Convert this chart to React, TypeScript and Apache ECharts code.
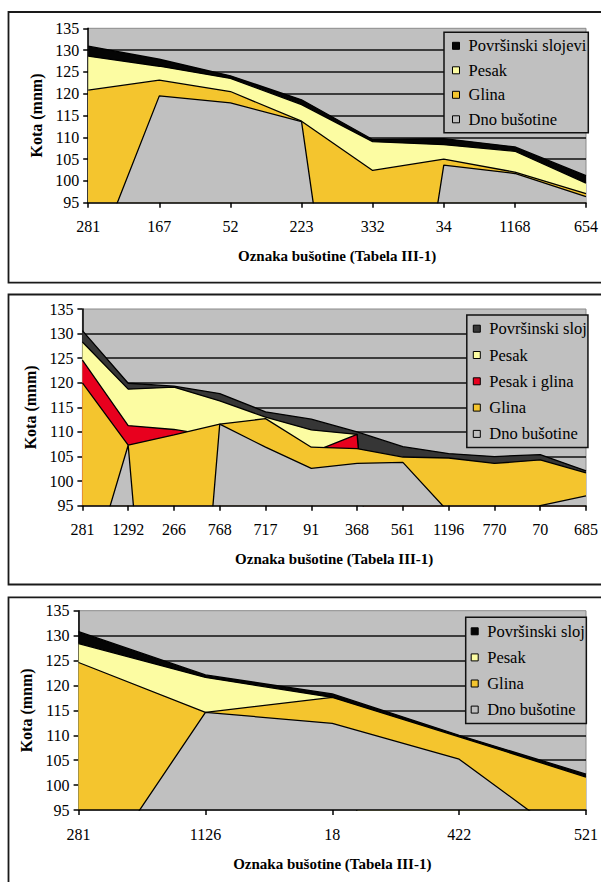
import React, { useEffect, useRef } from 'react';
import * as echarts from 'echarts';

// ---------- Panel 1 ----------
const categories1 = ['281', '167', '52', '223', '332', '34', '1168', '654'];
const povrsinski1 = [130.9, 127.9, 124.1, 118.6, 109.5, 109.7, 107.8, 101.2];
const pesak1 = [128.6, 126.3, 123.5, 117.5, 109.0, 108.3, 106.8, 99.5];
const glina1 = [120.8, 123.1, 120.5, 113.7, 102.4, 105.0, 102.0, 97.1];
const dno1 = [78, 119.5, 117.9, 113.6, 0, 103.6, 101.7, 96.4];

// ---------- Panel 2 ----------
const categories2 = ['281', '1292', '266', '768', '717', '91', '368', '561', '1196', '770', '70', '685'];
const povrsinski2 = [130.6, 119.9, 119.3, 117.8, 114.1, 112.6, 110.0, 107.0, 105.6, 105.0, 105.4, 102.1];
const pesak2 = [128.3, 118.7, 119.1, 116.3, 113.0, 110.4, 109.5, 0, 0, 0, 0, 0];
const pesakGlina2 = [124.6, 111.3, 110.5, 109.0, 108.0, 105.8, 109.5, 0, 0, 0, 0, 0];
const glina2 = [120.0, 107.3, 109.4, 111.6, 112.7, 106.9, 106.6, 104.9, 104.7, 103.6, 104.3, 101.7];
const dno2 = [76, 107.3, 0, 111.6, 106.9, 102.6, 103.6, 103.8, 93.7, 90, 95, 97.0];

// ---------- Panel 3 ----------
const categories3 = ['281', '1126', '18', '422', '521'];
const povrsinski3 = [130.8, 122.1, 118.3, 110.0, 102.2];
const pesak3 = [128.4, 121.6, 117.6, 0, 0];
const glina3 = [124.6, 114.6, 117.6, 109.7, 101.6];
const dno3 = [76.8, 114.6, 112.4, 105.2, 86.5];

const yTicks = { min: 95, max: 135, interval: 5 };
const xTitle = 'Oznaka bušotine (Tabela III-1)';
const yTitle = 'Kota (mnm)';

const FONT = "'Liberation Serif', 'Times New Roman', serif";
const C_GRAY = '#c0c0c0';
const C_GLINA = '#f4c52e';
const C_PESAK = '#fcfca2';
const C_RED = '#e8001e';
const C_BLACK = '#050505';
const C_DARK = '#363636';

type Layer = { name: string; data: number[]; color: string };

const panels = [
  {
    categories: categories1,
    layers: [
      { name: 'Površinski slojevi', data: povrsinski1, color: C_BLACK },
      { name: 'Pesak', data: pesak1, color: C_PESAK },
      { name: 'Glina', data: glina1, color: C_GLINA },
      { name: 'Dno bušotine', data: dno1, color: C_GRAY },
    ] as Layer[],
    grid: { left: 88.2, top: 28.3, width: 499.4, height: 174.4 },
    frame: { y: 12, h: 270.7 },
    legend: { left: 444, top: 32.3, itemGap: 7.5, padding: [5, 2, 5, 8] },
  },
  {
    categories: categories2,
    layers: [
      { name: 'Površinski sloj', data: povrsinski2, color: C_DARK },
      { name: 'Pesak', data: pesak2, color: C_PESAK },
      { name: 'Pesak i glina', data: pesakGlina2, color: C_RED },
      { name: 'Glina', data: glina2, color: C_GLINA },
      { name: 'Dno bušotine', data: dno2, color: C_GRAY },
    ] as Layer[],
    grid: { left: 82.4, top: 309, width: 504, height: 196.7 },
    frame: { y: 294.5, h: 290 },
    legend: { left: 466.8, top: 315, itemGap: 9.3, padding: [5.2, 1, 5.2, 6] },
  },
  {
    categories: categories3,
    layers: [
      { name: 'Površinski sloj', data: povrsinski3, color: C_BLACK },
      { name: 'Pesak', data: pesak3, color: C_PESAK },
      { name: 'Glina', data: glina3, color: C_GLINA },
      { name: 'Dno bušotine', data: dno3, color: C_GRAY },
    ] as Layer[],
    grid: { left: 78.6, top: 610.7, width: 507.8, height: 199.3 },
    frame: { y: 597.3, h: 320 },
    legend: { left: 465.7, top: 617.3, itemGap: 9.1, padding: [5.5, 1.5, 5.5, 5] },
  },
];

function buildOption() {
  const grid: any[] = [];
  const xAxis: any[] = [];
  const yAxis: any[] = [];
  const series: any[] = [];
  const legend: any[] = [];
  const graphic: any[] = [];

  panels.forEach((p, pi) => {
    grid.push({
      ...p.grid,
      show: true,
      backgroundColor: C_GRAY,
      borderColor: '#8a8a8a',
      borderWidth: 1,
      containLabel: false,
    });
    xAxis.push({
      type: 'category',
      gridIndex: pi,
      z: 40,
      data: p.categories,
      boundaryGap: false,
      axisLine: { show: true, lineStyle: { color: '#000', width: 1.5 } },
      axisTick: { show: true, length: 5, lineStyle: { color: '#000', width: 1.5 } },
      axisLabel: { fontFamily: FONT, fontSize: 16, color: '#000', margin: 16, interval: 0 },
      splitLine: { show: false },
      name: xTitle,
      nameLocation: 'middle',
      nameGap: 46,
      nameTextStyle: { fontFamily: FONT, fontSize: 15, fontWeight: 'bold', color: '#000' },
    });
    yAxis.push({
      type: 'value',
      gridIndex: pi,
      ...yTicks,
      axisLine: { show: true, lineStyle: { color: '#000', width: 1.5 } },
      axisTick: { show: true, length: 5, lineStyle: { color: '#000', width: 1.5 } },
      axisLabel: { fontFamily: FONT, fontSize: 16, color: '#000', margin: 9 },
      splitLine: {
        show: true,
        showMinLine: false,
        showMaxLine: false,
        lineStyle: { color: '#111', width: 1.5 },
      },
      name: yTitle,
      nameLocation: 'middle',
      nameGap: 44,
      nameTextStyle: { fontFamily: FONT, fontSize: 16, fontWeight: 'bold', color: '#000' },
    });
    p.layers.forEach((l, li) => {
      series.push({
        type: 'line',
        name: l.name,
        xAxisIndex: pi,
        yAxisIndex: pi,
        data: l.data,
        showSymbol: false,
        symbol: 'none',
        silent: true,
        clip: true,
        z: 2 + li,
        color: l.color,
        itemStyle: { color: l.color },
        lineStyle: { color: '#000', width: 1.3 },
        areaStyle: { color: l.color, opacity: 1, origin: 'start' },
      });
    });
    legend.push({
      orient: 'vertical',
      left: p.legend.left,
      top: p.legend.top,
      itemGap: p.legend.itemGap,
      padding: p.legend.padding,
      itemWidth: 7,
      itemHeight: 7,
      icon: 'rect',
      selectedMode: false,
      backgroundColor: C_GRAY,
      borderColor: '#111',
      borderWidth: 1.5,
      z: 20,
      textStyle: { fontFamily: FONT, fontSize: 16.5, color: '#000', lineHeight: 16.5, padding: [0, 0, 0, 4] },
      data: p.layers.map((l) => ({
        name: l.name,
        icon: 'rect',
        itemStyle: { color: l.color, borderColor: '#000', borderWidth: 1 },
      })),
    });
    graphic.push({
      type: 'rect',
      silent: true,
      z: 30,
      shape: { x: 8.5, y: p.frame.y, width: 620, height: p.frame.h },
      style: { fill: 'none', stroke: '#1a1a1a', lineWidth: 1.8 },
    });
  });

  return {
    animation: false,
    backgroundColor: '#fff',
    grid,
    xAxis,
    yAxis,
    series,
    legend,
    graphic,
  };
}

export default function App() {
  const ref = useRef<HTMLDivElement>(null);
  useEffect(() => {
    if (!ref.current) return;
    const chart = echarts.init(ref.current, null, { renderer: 'svg' });
    chart.setOption(buildOption() as any);
    return () => chart.dispose();
  }, []);
  return (
    <div
      ref={ref}
      style={{ position: 'absolute', left: 0, top: 0, width: 601, height: 882, background: '#fff' }}
    />
  );
}
